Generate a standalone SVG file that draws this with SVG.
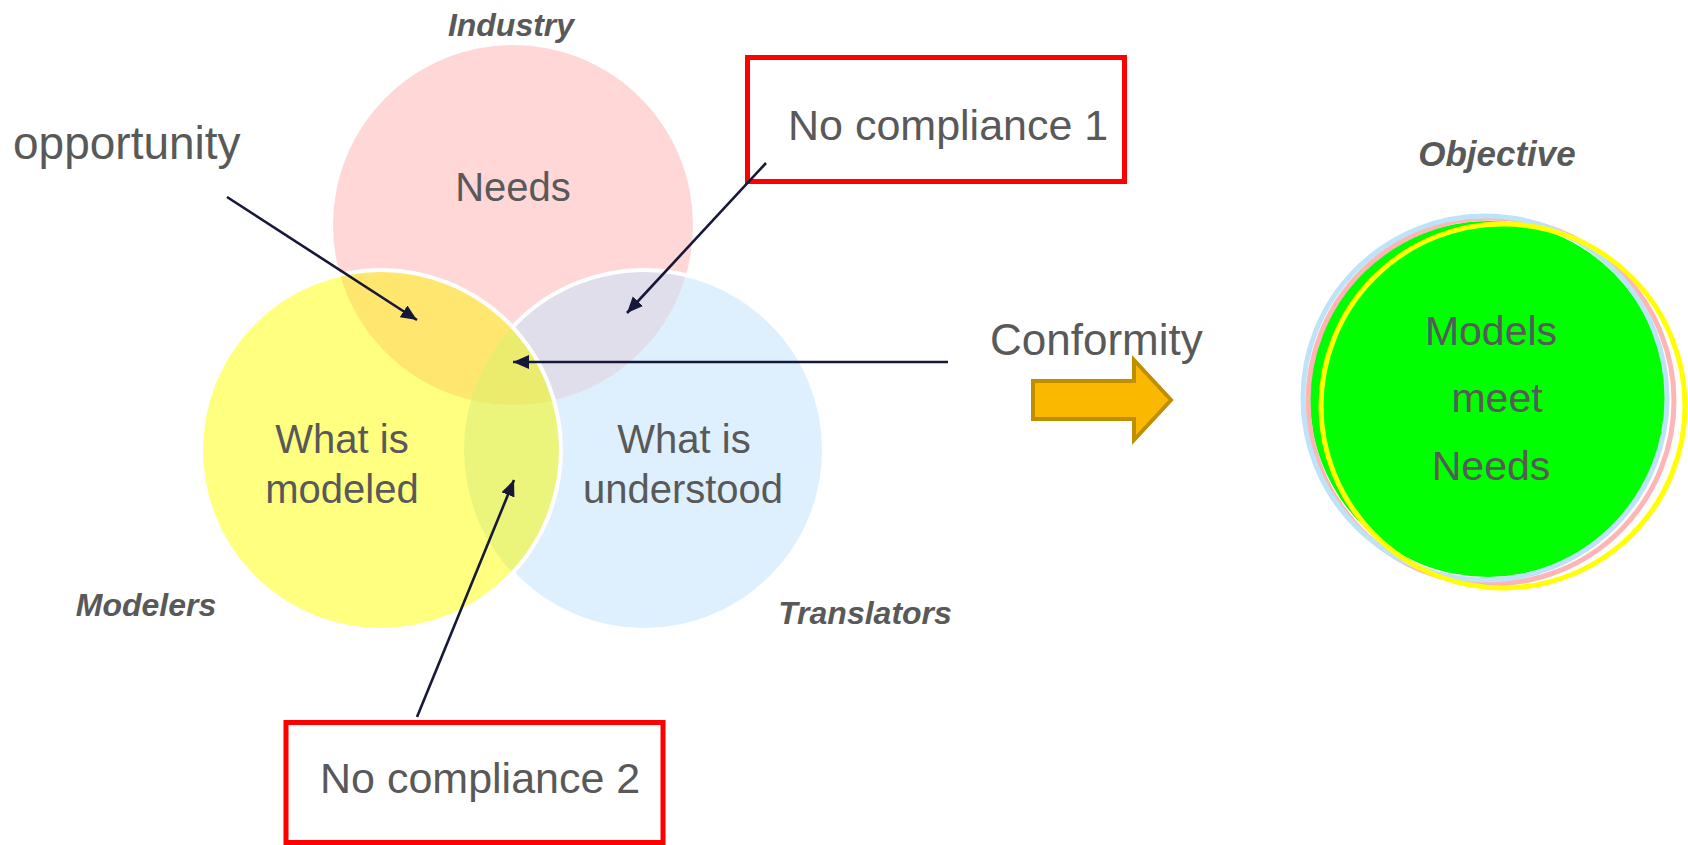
<svg xmlns="http://www.w3.org/2000/svg" width="1688" height="845" viewBox="0 0 1688 845">
<style>
text{font-family:"Liberation Sans",Arial,sans-serif;fill:#595959}
.lbl{font-weight:bold;font-style:italic;font-size:32px}
.big{font-size:40px}
.conn{stroke:#16183a;stroke-width:2.6;fill:none;marker-end:url(#ah)}
.box{fill:#fff;stroke:#ff0000;stroke-width:5}
.ws{fill:none;stroke:#fff;stroke-width:4}
</style>
<defs>
<marker id="ah" markerUnits="userSpaceOnUse" markerWidth="17" markerHeight="15" refX="16" refY="7" orient="auto">
<path d="M0,0 L16,7 L0,14 Z" fill="#16183a"/>
</marker>
<clipPath id="cpPink"><circle cx="513" cy="225" r="180"/></clipPath>
<clipPath id="cpBlue"><circle cx="644" cy="450" r="180"/></clipPath>
<mask id="notYellow"><rect x="0" y="0" width="1688" height="845" fill="#fff"/><circle cx="381" cy="450" r="180" fill="#000"/></mask>
</defs>
<rect width="1688" height="845" fill="#fff"/>

<g id="venn">
<g id="industry">
<circle cx="513" cy="225" r="180" fill="#ffd7d7"/>
<text class="lbl" x="511" y="36" text-anchor="middle">Industry</text>
<text class="big" x="513" y="201" text-anchor="middle">Needs</text>
</g>
<g id="translators">
<circle cx="644" cy="450" r="180" fill="#def0fe"/>
</g>
<g id="modelers">
<circle cx="381" cy="450" r="180" fill="#ffff80"/>
</g>
<g id="overlaps">
<circle cx="381" cy="450" r="180" fill="#ffe66e" clip-path="url(#cpPink)"/>
<circle cx="644" cy="450" r="180" fill="#dfdeea" clip-path="url(#cpPink)"/>
<circle cx="381" cy="450" r="180" fill="#ecf57b" clip-path="url(#cpBlue)"/>
<g clip-path="url(#cpPink)"><circle cx="381" cy="450" r="180" fill="#ebeb6e" clip-path="url(#cpBlue)"/></g>
<circle class="ws" cx="644" cy="450" r="180" mask="url(#notYellow)"/>
<circle class="ws" cx="381" cy="450" r="180"/>
</g>
<g id="venn-labels">
<text class="big" x="342" y="453" text-anchor="middle">What is</text>
<text class="big" x="342" y="503" text-anchor="middle">modeled</text>
<text class="big" x="684" y="453" text-anchor="middle">What is</text>
<text class="big" x="683" y="503" text-anchor="middle">understood</text>
<text class="lbl" x="146" y="616" text-anchor="middle">Modelers</text>
<text class="lbl" x="865" y="624" text-anchor="middle">Translators</text>
</g>
</g>

<g id="opportunity">
<text x="13" y="159" font-size="46">opportunity</text>
</g>

<g id="no-compliance-1">
<rect class="box" x="747.5" y="57.5" width="377" height="124"/>
<text x="788" y="140" font-size="43">No compliance 1</text>
</g>

<g id="no-compliance-2">
<rect class="box" x="286" y="722.5" width="377" height="120"/>
<text x="320" y="793" font-size="43">No compliance 2</text>
</g>

<g id="conformity">
<text x="990" y="355" font-size="44">Conformity</text>
<path d="M1033,381 H1134 V360 L1171,400 L1134,440 V419 H1033 Z" fill="#fbb800" stroke="#bf8f00" stroke-width="4" stroke-linejoin="miter"/>
</g>

<g id="objective">
<text class="lbl" x="1497" y="166" text-anchor="middle" style="font-size:35px">Objective</text>
<circle cx="1488" cy="399" r="178" fill="#00ff00"/>
<circle cx="1491" cy="401" r="183" fill="none" stroke="#ffb5b5" stroke-width="5"/>
<circle cx="1485" cy="398" r="182" fill="none" stroke="#bde3f8" stroke-width="5"/>
<circle cx="1503" cy="406" r="182" fill="none" stroke="#ffff00" stroke-width="5"/>
<text x="1491" y="345" text-anchor="middle" font-size="41">Models</text>
<text x="1497" y="412" text-anchor="middle" font-size="41">meet</text>
<text x="1491" y="480" text-anchor="middle" font-size="41">Needs</text>
</g>

<g id="connectors">
<line class="conn" x1="227" y1="197" x2="417" y2="320"/>
<line class="conn" x1="766" y1="163" x2="627" y2="313"/>
<line class="conn" x1="948" y1="362" x2="513" y2="362"/>
<line class="conn" x1="417" y1="717" x2="514" y2="480"/>
</g>
</svg>
